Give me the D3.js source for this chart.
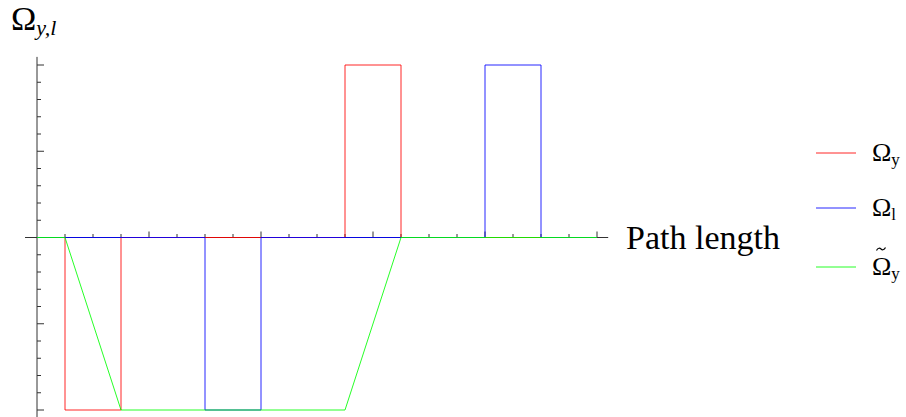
<!DOCTYPE html>
<html>
<head>
<meta charset="utf-8">
<script src="https://cdn.jsdelivr.net/npm/d3@7"></script>
<style>
  html, body { margin: 0; padding: 0; background: #fff; }
  svg { display: block; }
  text { font-family: "Liberation Serif", "Times New Roman", serif; fill: #000; }
</style>
</head>
<body>
<script>
// ---- data ----
const redX   = [0, 0.25, 0.25, 0.75, 0.75, 2.75, 2.75, 3.25, 3.25, 5];
const redY   = [0, 0, -1, -1, 0, 0, 1, 1, 0, 0];
const blueX  = [0, 1.5, 1.5, 2, 2, 4, 4, 4.5, 4.5, 5];
const blueY  = [0, 0, -1, -1, 0, 0, 1, 1, 0, 0];
const greenX = [0, 0.25, 0.75, 2.75, 3.25, 5];
const greenY = [0, 0, -1, -1, 0, 0];
const seriesNames = ["Ω", "Ω", "Ω"];
const seriesSubs = ["y", "l", "y"];
const seriesColors = ["#ff0000", "#0000ff", "#00ff00"];
const xMajorTicks = [0, 1, 2, 3, 4, 5];
const xMinorTicks = [0.25, 0.5, 0.75, 1.25, 1.5, 1.75, 2.25, 2.5, 2.75, 3.25, 3.5, 3.75, 4.25, 4.5, 4.75];
const yMajorTicks = [-1, -0.5, 0.5, 1];
const yMinorTicks = [-0.9, -0.8, -0.7, -0.6, -0.4, -0.3, -0.2, -0.1, 0.1, 0.2, 0.3, 0.4, 0.6, 0.7, 0.8, 0.9];

const W = 906, H = 417;
const svg = d3.select("body").append("svg").attr("width", W).attr("height", H);

const x = d3.scaleLinear().domain([0, 5]).range([37, 597]);
const y = d3.scaleLinear().domain([-1, 1]).range([410, 65]);

const axisColor = "#333";
// axes lines
svg.append("line").attr("x1", x(-0.107)).attr("x2", x(5.1)).attr("y1", y(0)).attr("y2", y(0))
  .attr("stroke", axisColor).attr("stroke-width", 1);
svg.append("line").attr("x1", x(0)).attr("x2", x(0)).attr("y1", y(1.047)).attr("y2", H + 2)
  .attr("stroke", axisColor).attr("stroke-width", 1);

// x ticks (pointing up)
svg.selectAll(".xmaj").data(xMajorTicks.filter(d => d !== 0)).enter().append("line")
  .attr("x1", d => x(d)).attr("x2", d => x(d)).attr("y1", y(0)).attr("y2", y(0) - 6)
  .attr("stroke", axisColor).attr("stroke-width", 1);
svg.selectAll(".xmin").data(xMinorTicks).enter().append("line")
  .attr("x1", d => x(d)).attr("x2", d => x(d)).attr("y1", y(0)).attr("y2", y(0) - 3.5)
  .attr("stroke", axisColor).attr("stroke-width", 1);
// y ticks (pointing right)
svg.selectAll(".ymaj").data(yMajorTicks).enter().append("line")
  .attr("x1", x(0)).attr("x2", x(0) + 7).attr("y1", d => y(d)).attr("y2", d => y(d))
  .attr("stroke", axisColor).attr("stroke-width", 1);
svg.selectAll(".ymin").data(yMinorTicks).enter().append("line")
  .attr("x1", x(0)).attr("x2", x(0) + 4).attr("y1", d => y(d)).attr("y2", d => y(d))
  .attr("stroke", axisColor).attr("stroke-width", 1);

// series
const line = d3.line().x(d => x(d[0])).y(d => y(d[1]));
const series = [d3.zip(redX, redY), d3.zip(blueX, blueY), d3.zip(greenX, greenY)];
series.forEach((s, i) => {
  svg.append("path").attr("d", line(s)).attr("fill", "none")
    .attr("stroke", seriesColors[i]).attr("stroke-width", 1).attr("stroke-opacity", 0.85);
});

// axis labels
const yl = svg.append("text").attr("x", 11).attr("y", 30).style("font-size", "34px");
yl.append("tspan").text("Ω");
yl.append("tspan").attr("dy", 5).style("font-size", "22px").style("font-style", "italic").text("y,l");

svg.append("text").attr("x", 626).attr("y", 249).style("font-size", "34px").text("Path length");

// legend
const legY = [153, 208, 267];
seriesColors.forEach((c, i) => {
  svg.append("line").attr("x1", 816).attr("x2", 856).attr("y1", legY[i]).attr("y2", legY[i])
    .attr("stroke", c).attr("stroke-width", 1).attr("stroke-opacity", 0.85);
  const t = svg.append("text").attr("x", 872).attr("y", legY[i] + 8).style("font-size", "26px");
  t.append("tspan").text(seriesNames[i]);
  t.append("tspan").attr("dy", 4).style("font-size", "17px").text(seriesSubs[i]);
  if (i === 2) {
    // tilde accent drawn as a small curve
    const cx = 881, cy = legY[i] - 18;
    svg.append("path")
      .attr("d", `M${cx - 4.5},${cy + 1.5} C${cx - 3},${cy - 1.5} ${cx - 1},${cy - 1} ${cx},${cy} S${cx + 3},${cy + 1.5} ${cx + 4.5},${cy - 1.5}`)
      .attr("fill", "none").attr("stroke", "#000").attr("stroke-width", 1.2);
  }
});
</script>
</body>
</html>
